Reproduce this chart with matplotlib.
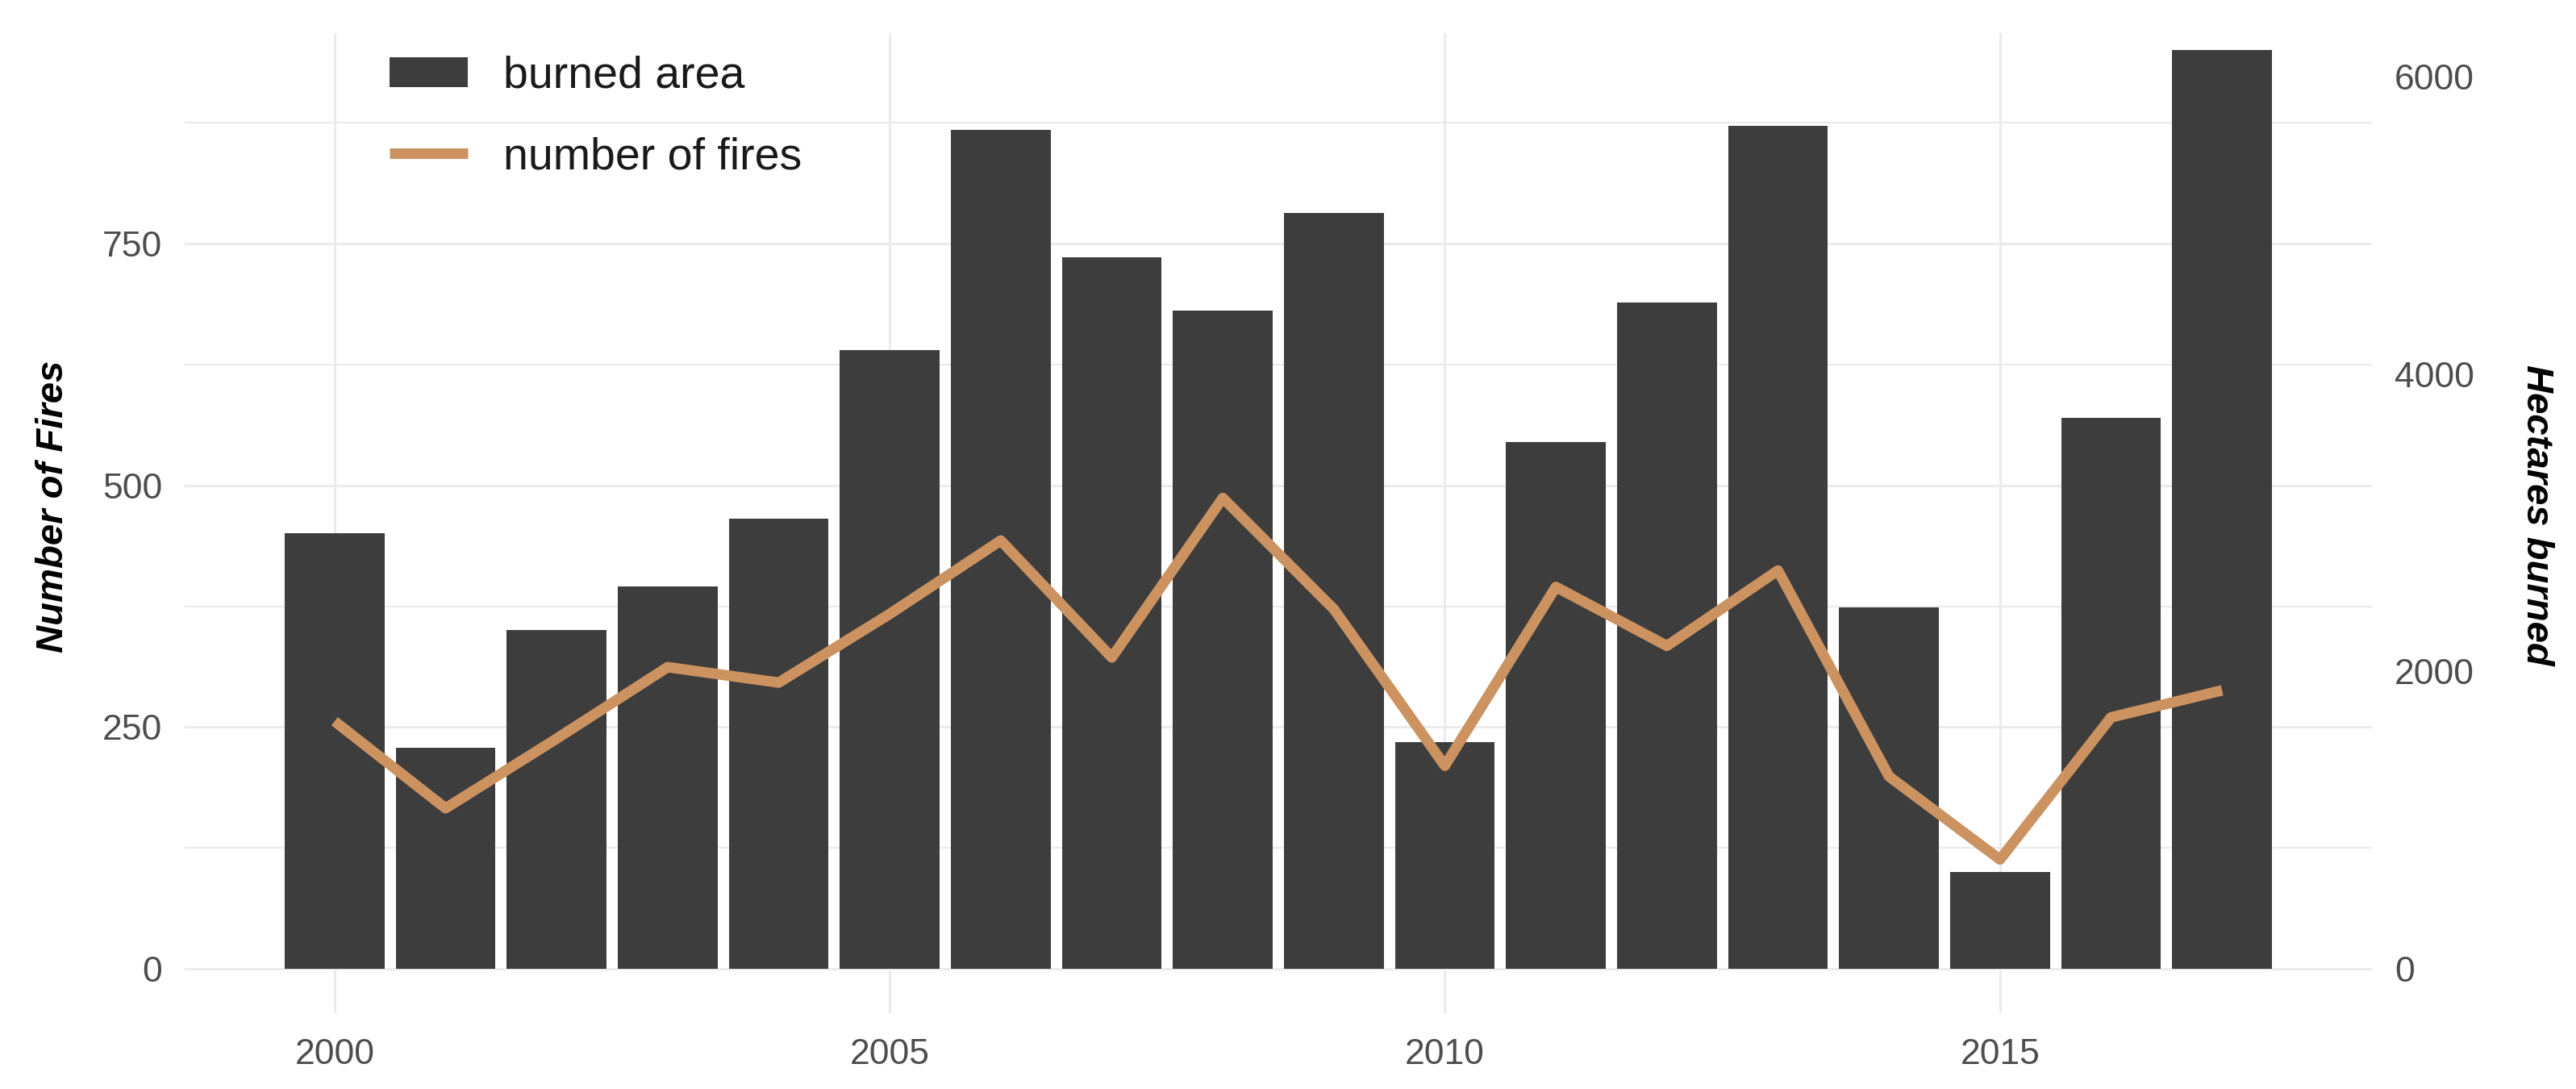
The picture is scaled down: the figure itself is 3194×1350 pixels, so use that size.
import matplotlib
matplotlib.use("Agg")
import numpy as np
import matplotlib.pyplot as plt

# data
years = np.arange(2000, 2018)
fires = [256, 166, 238, 312, 296, 367, 443, 322, 487, 372,
         210, 395, 334, 412, 199, 113, 260, 288]
hectares = [2930, 1485, 2280, 2570, 3025, 4160, 5640, 4785, 4425, 5085,
            1525, 3540, 4480, 5670, 2430, 650, 3705, 6180]

# secondary axis: hectares = fires * k
k = 6.5

plt.rcParams['font.family'] = ['Liberation Sans', 'DejaVu Sans']

fig = plt.figure(figsize=(15.97, 6.75), dpi=200)
ax = fig.add_axes([229/3194, 1-1256/1350, (2941-229)/3194, (1256-41)/1350])

# bars are drawn on the fires scale through the secondary transform
bars = ax.bar(years, np.array(hectares)/k, width=0.9, color='#3d3d3d',
              label='burned area', zorder=2)
line, = ax.plot(years, fires, color='#cc9260', lw=4.7, solid_capstyle='butt',
                label='number of fires', zorder=3)

ax.set_xlim(1998.65, 2018.35)
ax.set_ylim(-46, 968)

ax.set_xticks([2000, 2005, 2010, 2015])
ax.set_yticks([0, 250, 500, 750])
ax.set_yticks([125, 375, 625, 875], minor=True)

ax.grid(True, which='major', color='#ebebeb', lw=1.1, zorder=0)
ax.grid(True, which='minor', axis='y', color='#ebebeb', lw=0.8, zorder=0)
ax.set_axisbelow(True)
for s in ax.spines.values():
    s.set_visible(False)
ax.tick_params(which='both', length=0, labelsize=16, labelcolor='#4d4d4d')
ax.tick_params(axis='y', pad=10)
ax.tick_params(axis='x', pad=11)

sec = ax.secondary_yaxis('right', functions=(lambda f: f*k, lambda h: h/k))
sec.set_yticks([0, 2000, 4000, 6000])
sec.tick_params(length=0, labelsize=16, labelcolor='#4d4d4d', pad=10)
for s in sec.spines.values():
    s.set_visible(False)

fig.text(66/3194, 1-628/1350, 'Number of Fires', rotation=90,
         ha='center', va='center', fontsize=17, fontweight='bold',
         fontstyle='italic', color='black')
fig.text(3145/3194, 1-638/1350, 'Hectares burned', rotation=-90,
         ha='center', va='center', fontsize=17, fontweight='bold',
         fontstyle='italic', color='black')

leg = ax.legend([bars, line], ['burned area', 'number of fires'],
                loc='upper left', bbox_to_anchor=(0.0937, 0.977),
                frameon=False, fontsize=20, borderpad=0,
                handlelength=1.75, handleheight=0.67, handletextpad=0.78,
                labelspacing=0.87, borderaxespad=0)
for t in leg.get_texts():
    t.set_color('#1a1a1a')

fig.savefig('out.png', dpi=200)
